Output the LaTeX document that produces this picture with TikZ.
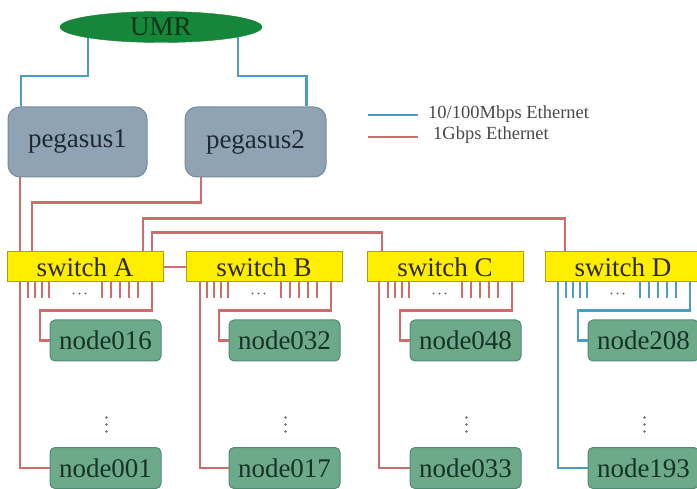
\documentclass[tikz,border=0pt]{standalone}
\usepackage{fontspec}
\setmainfont{Liberation Serif}
\usetikzlibrary{shapes.geometric,backgrounds}
\definecolor{umrgreen}{HTML}{16873A}
\definecolor{umrtext}{HTML}{0B3318}
\definecolor{pgfill}{HTML}{8FA3B4}
\definecolor{pgborder}{HTML}{788B9B}
\definecolor{pgtext}{HTML}{1F2A33}
\definecolor{swfill}{HTML}{FFEE00}
\definecolor{swborder}{HTML}{B0A000}
\definecolor{swtext}{HTML}{2E2800}
\definecolor{ndfill}{HTML}{6DAA8A}
\definecolor{ndborder}{HTML}{508C74}
\definecolor{ndtext}{HTML}{173328}
\definecolor{gigred}{HTML}{CF6C6C}
\definecolor{fastblue}{HTML}{4A9EC6}
\definecolor{dotgray}{HTML}{707070}
\definecolor{legtext}{HTML}{4A4A4A}
\begin{document}
\begin{tikzpicture}[x=1pt,y=-1pt,
  bigfont/.style={font=\fontsize{27}{27}\selectfont},
  umrnode/.style={ellipse, fill=umrgreen, draw=umrgreen, minimum width=202pt, minimum height=31pt, inner sep=0pt, text=umrtext, bigfont},
  pgnode/.style={rectangle, rounded corners=12pt, fill=pgfill, draw=pgborder, line width=1pt, minimum height=70pt, inner sep=0pt, text=pgtext, bigfont},
  swnode/.style={rectangle, fill=swfill, draw=swborder, line width=1pt, minimum width=156pt, minimum height=30pt, inner sep=0pt, text=swtext, bigfont},
  cnode/.style={rectangle, rounded corners=5pt, fill=ndfill, draw=ndborder, line width=1pt, minimum width=111pt, minimum height=41pt, inner sep=0pt, text=ndtext, bigfont},
  gig/.style={draw=gigred, line width=2.3pt},
  fast/.style={draw=fastblue, line width=2.3pt},
  gigtick/.style={draw=gigred, line width=2pt},
  fasttick/.style={draw=fastblue, line width=2pt},
  legendtext/.style={anchor=west, inner sep=0pt, text=legtext, font=\fontsize{18.5}{18.5}\selectfont}
]
\useasboundingbox (0,0) rectangle (697,489);

% main nodes
\node[umrnode] (umr) at (161,27) {UMR};
\node[pgnode, minimum width=139pt] (peg1) at (77.5,142) {pegasus1};
\node[pgnode, minimum width=141pt] (peg2) at (255.5,142) {pegasus2};

\node[swnode] (swA) at (85,267) {switch A};
\node[swnode] (swB) at (264,267) {switch B};
\node[swnode] (swC) at (445,267) {switch C};
\node[swnode] (swD) at (623,267) {switch D};

\node[cnode] (n016) at (105.5,340.5) {node016};
\node[cnode] (n001) at (105.5,468) {node001};
\node[cnode] (n032) at (284.5,340.5) {node032};
\node[cnode] (n017) at (284.5,468) {node017};
\node[cnode] (n048) at (465.5,340.5) {node048};
\node[cnode] (n033) at (465.5,468) {node033};
\node[cnode] (n208) at (643.5,340.5) {node208};
\node[cnode] (n193) at (643.5,468) {node193};

% legend
\coordinate (lb1) at (368,115);
\coordinate (lb2) at (418,115);
\coordinate (lr1) at (368,137);
\coordinate (lr2) at (418,137);
\node[legendtext] (lt1) at (428,114) {10/100Mbps Ethernet};
\node[legendtext] (lt2) at (433,135) {1Gbps Ethernet};
\draw[fast] (lb1) -- (lb2);
\draw[gig] (lr1) -- (lr2);

\begin{scope}[on background layer]
  % UMR to pegasus
  \draw[fast] ([xshift=-73pt]umr.center) -- ++(0,49) -| ([xshift=-56.5pt]peg1.north);
  \draw[fast] ([xshift=77pt]umr.center) -- ++(0,49) -| ([xshift=51pt]peg2.north);
  % pegasus to switch A / node001
  \draw[gig] ([xshift=-57.5pt]peg1.south) |- (n001.west);
  \draw[gig] ([xshift=-54.5pt]peg2.south) -- ++(0,25) -| ([xshift=-53pt]swA.north);
  % switch interconnections
  \draw[gig] ([xshift=58pt]swA.north) -- ++(0,-33) -| ([xshift=-58pt]swD.north);
  \draw[gig] ([xshift=67pt]swA.north) -- ++(0,-19) -| ([xshift=-63pt]swC.north);
  \draw[gig] (swA.east) -- (swB.west);
  % switch B
  \draw[gig] ([xshift=-64pt]swB.south) |- (n017.west);
  \draw[gig] ([xshift=67pt]swB.south) -- ++(0,28) -- ++(-112,0) |- (n032.west);
  % switch C
  \draw[gig] ([xshift=-66pt]swC.south) |- (n033.west);
  \draw[gig] ([xshift=67pt]swC.south) -- ++(0,28) -- ++(-112,0) |- (n048.west);
  % switch D
  \draw[fast] ([xshift=-65pt]swD.south) |- (n193.west);
  \draw[fast] ([xshift=67pt]swD.south) -- ++(0,28) -- ++(-112,0) |- (n208.west);
  % switch A to node016
  \draw[gig] ([xshift=67pt]swA.south) -- ++(0,28) -- ++(-112,0) |- (n016.west);
\end{scope}

% port ticks and dots
\foreach \sw/\st in {swA/gigtick, swB/gigtick, swC/gigtick, swD/fasttick} {
  \foreach \o in {21,28,35,42,95,104,113,122,131} {
    \draw[\st] ([xshift=\o pt]\sw.south west) -- ++(0,16);
  }
  \foreach \o in {67,73,79} {
    \fill[dotgray] ([xshift=\o pt, yshift=-11pt]\sw.south west) circle (1.1pt);
  }
}
\foreach \n in {n016, n032, n048, n208} {
  \foreach \d in {56,63,70} {
    \fill[dotgray] ([xshift=1pt, yshift=-\d pt]\n.south) circle (1.3pt);
  }
}
\end{tikzpicture}
\end{document}
